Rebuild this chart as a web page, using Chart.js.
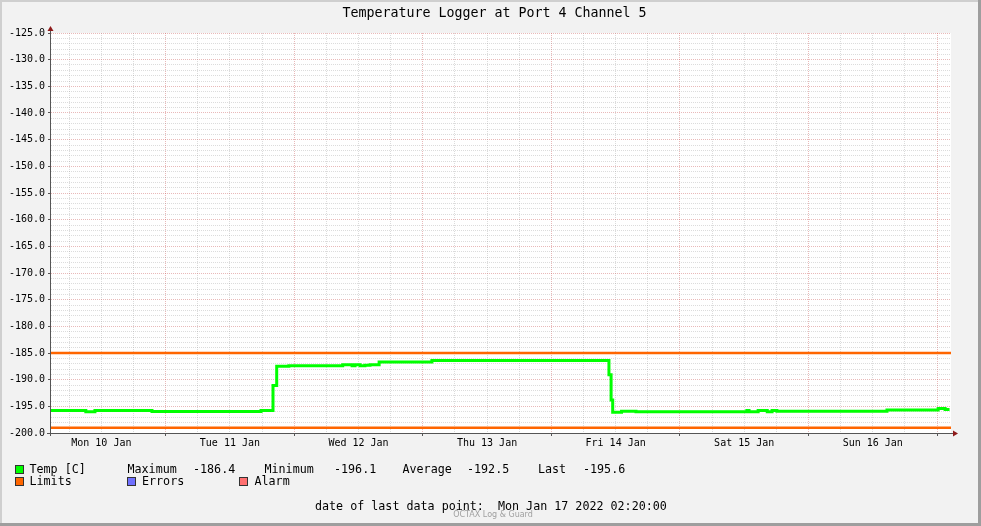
<!DOCTYPE html>
<html>
<head>
<meta charset="utf-8">
<script src="https://cdn.jsdelivr.net/npm/chart.js@4.4.1/dist/chart.umd.min.js"></script>
<style>
  body { margin: 0; background: #f2f2f2; }
  #wrap { position: relative; width: 981px; height: 526px; background: #f2f2f2; font-family: "DejaVu Sans Mono", monospace; color: #000; overflow: hidden; }
  canvas { position: absolute; left: 0; top: 0; }
  .t { position: absolute; white-space: pre; font-size: 11.7px; line-height: 14px; }
  .sq { position: absolute; width: 7px; height: 7px; border: 1px solid #333; }
</style>
</head>
<body>
<div id="wrap">
  <canvas id="chart" width="981" height="526"></canvas>
  <div class="t" style="left:0;top:5px;width:989px;text-align:center;font-size:13.3px;line-height:16px;">Temperature Logger at Port 4 Channel 5</div>

  <div class="sq" style="left:15px;top:465px;background:#00ff00;"></div>
  <div class="t" style="left:29.5px;top:462px;">Temp [C]</div>
  <div class="t" style="left:127.5px;top:462px;">Maximum</div>
  <div class="t" style="left:193px;top:462px;">-186.4</div>
  <div class="t" style="left:264.5px;top:462px;">Minimum</div>
  <div class="t" style="left:334px;top:462px;">-196.1</div>
  <div class="t" style="left:402.5px;top:462px;">Average</div>
  <div class="t" style="left:467px;top:462px;">-192.5</div>
  <div class="t" style="left:538px;top:462px;">Last</div>
  <div class="t" style="left:583px;top:462px;">-195.6</div>

  <div class="sq" style="left:15px;top:477px;background:#ff6600;"></div>
  <div class="t" style="left:29.5px;top:474px;">Limits</div>
  <div class="sq" style="left:127px;top:477px;background:#7070ff;"></div>
  <div class="t" style="left:142px;top:474px;">Errors</div>
  <div class="sq" style="left:239px;top:477px;background:#ff7070;"></div>
  <div class="t" style="left:254.5px;top:474px;">Alarm</div>

  <div class="t" style="left:315px;top:499px;">date of last data point:  Mon Jan 17 2022 02:20:00</div>
  <div class="t" style="left:0;top:510px;width:986px;text-align:center;font-family:'DejaVu Sans',sans-serif;font-size:8px;line-height:10px;color:#a0a0a0;">OCTAX Log &amp; Guard</div>
</div>
<script>
// time axis in hours since Mon 10 Jan 00:00
const xMin = 2.6;
const xMax = 170.6;

const xLabelHours = [12, 36, 60, 84, 108, 132, 156];
const xTickLabels = ["Mon 10 Jan", "Tue 11 Jan", "Wed 12 Jan", "Thu 13 Jan", "Fri 14 Jan", "Sat 15 Jan", "Sun 16 Jan"];

// temperature, step changes (hour, new value)
const tempHours = [2.6, 9.1, 10.8, 21.45, 41.8, 44.04, 44.73, 47.0, 57.05, 58.8, 59.35, 60.3, 61.2, 62.15, 63.85, 73.7,
  106.75, 107.15, 107.45, 109.1, 111.8, 132.5, 132.9, 134.6, 136.3, 137.2, 138.1, 158.65, 168.2, 169.5, 170.33];
const tempValues = [-195.8, -196.0, -195.8, -195.95, -195.8, -191.1, -187.5, -187.4, -187.2, -187.4, -187.2, -187.4, -187.3, -187.2, -186.7, -186.4,
  -189.1, -193.8, -196.1, -195.9, -196.0, -195.8, -196.0, -195.8, -196.0, -195.8, -195.9, -195.7, -195.4, -195.6, -195.6];

const limitUpper = -185;
const limitLower = -199;

const yMin = -200;
const yMax = -125;

const xGridHours = [];
for (let h = 6; h <= xMax; h += 6) xGridHours.push(h);
const yGridValues = [];
for (let v = yMin; v <= yMax; v++) yGridValues.push(v);

const minorGrid = "rgba(140,140,140,0.3)";
const majorGrid = "rgba(200,80,80,0.4)";
const axisColor = "#555";
const arrowColor = "#8e1a1a";

const framePlugin = {
  id: "frame",
  beforeDraw(chart) {
    const a = chart.chartArea;
    const ctx = chart.ctx;
    ctx.save();
    ctx.fillStyle = "#fff";
    ctx.fillRect(a.left, a.top, a.right - a.left, a.bottom - a.top);
    ctx.restore();
  },
  afterDraw(chart) {
    const a = chart.chartArea;
    const ctx = chart.ctx;
    ctx.save();
    ctx.strokeStyle = axisColor;
    ctx.lineWidth = 1;
    ctx.beginPath();
    ctx.moveTo(a.left - 0.5, a.bottom + 3);
    ctx.lineTo(a.left - 0.5, a.top - 5);
    ctx.moveTo(a.left - 4, a.bottom + 0.5);
    ctx.lineTo(a.right + 2, a.bottom + 0.5);
    ctx.stroke();
    ctx.fillStyle = arrowColor;
    ctx.beginPath();
    ctx.moveTo(a.left - 3.5, a.top - 2);
    ctx.lineTo(a.left + 2.5, a.top - 2);
    ctx.lineTo(a.left - 0.5, a.top - 7);
    ctx.closePath();
    ctx.fill();
    ctx.beginPath();
    ctx.moveTo(a.right + 2, a.bottom - 2.5);
    ctx.lineTo(a.right + 2, a.bottom + 3.5);
    ctx.lineTo(a.right + 7, a.bottom + 0.5);
    ctx.closePath();
    ctx.fill();
    // frame shading
    const w = chart.width, h = chart.height;
    ctx.fillStyle = "#cfcfcf";
    ctx.fillRect(0, 0, w, 2);
    ctx.fillRect(0, 0, 2, h);
    ctx.fillStyle = "#9e9e9e";
    ctx.fillRect(w - 3, 0, 3, h);
    ctx.fillRect(0, h - 3, w, 3);
    ctx.restore();
  }
};

Chart.defaults.font.family = "'DejaVu Sans Mono', monospace";
Chart.defaults.color = "#000";

new Chart(document.getElementById("chart"), {
  type: "line",
  data: {
    datasets: [
      {
        label: "Temp [C]",
        data: tempHours.map((h, i) => ({ x: h, y: tempValues[i] })),
        borderColor: "#00ff00",
        borderWidth: 3,
        stepped: "before",
        pointRadius: 0,
        fill: false
      },
      {
        label: "Limits",
        data: [{ x: xMin, y: limitUpper }, { x: xMax, y: limitUpper }],
        borderColor: "#ff6600",
        borderWidth: 2.5,
        pointRadius: 0,
        fill: false
      },
      {
        label: "Limits low",
        data: [{ x: xMin, y: limitLower }, { x: xMax, y: limitLower }],
        borderColor: "#ff6600",
        borderWidth: 2.5,
        pointRadius: 0,
        fill: false
      }
    ]
  },
  options: {
    responsive: false,
    animation: false,
    layout: { padding: { left: 0, top: 33, right: 30, bottom: 0 } },
    plugins: { legend: { display: false }, tooltip: { enabled: false }, title: { display: false } },
    scales: {
      x: {
        type: "linear",
        min: xMin,
        max: xMax,
        afterBuildTicks: s => { s.ticks = xGridHours.map(v => ({ value: v })); },
        afterFit: s => { s.height = 93; },
        ticks: {
          autoSkip: false,
          maxRotation: 0,
          padding: 1,
          font: { size: 10 },
          callback: v => {
            const i = xLabelHours.indexOf(v);
            return i < 0 ? "" : xTickLabels[i];
          }
        },
        grid: {
          color: c => (c.tick && c.tick.value % 24 === 0 ? majorGrid : minorGrid),
          tickLength: 3,
          tickColor: c => (c.tick && c.tick.value % 24 === 0 ? axisColor : "rgba(0,0,0,0)")
        },
        border: { display: false, dash: [1, 1] }
      },
      y: {
        min: yMin,
        max: yMax,
        afterBuildTicks: s => { s.ticks = yGridValues.map(v => ({ value: v })); },
        afterFit: s => { s.width = 51; },
        ticks: {
          autoSkip: false,
          padding: 3,
          font: { size: 10 },
          callback: v => (v % 5 === 0 ? v.toFixed(1) : "")
        },
        grid: {
          color: c => (c.tick && c.tick.value % 5 === 0 ? majorGrid : minorGrid),
          tickLength: 3,
          tickColor: c => (c.tick && c.tick.value % 5 === 0 ? axisColor : "rgba(0,0,0,0)")
        },
        border: { display: false, dash: [1, 1] }
      }
    }
  },
  plugins: [framePlugin]
});
</script>
</body>
</html>
